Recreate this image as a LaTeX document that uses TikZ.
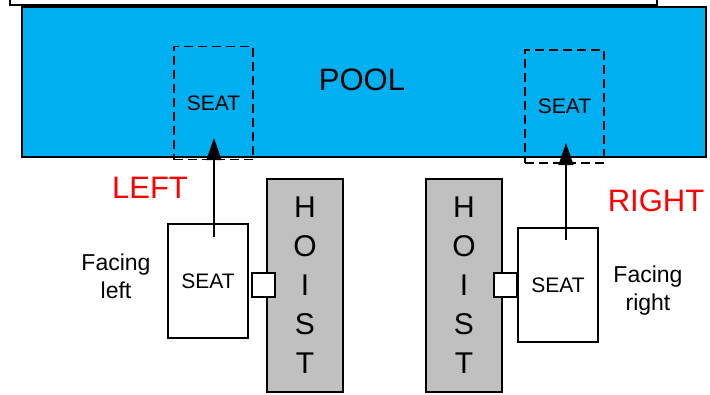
\documentclass[tikz,border=0pt]{standalone}
\usepackage{fontspec}
\setmainfont{Liberation Sans}
\usepackage{tikz}
\usetikzlibrary{arrows.meta}

\definecolor{poolblue}{HTML}{00B0F0}
\definecolor{hoistgray}{HTML}{C0C0C0}
\definecolor{sidered}{HTML}{FF0000}

\tikzset{
  seatbox/.style={draw, fill=white, line width=1.2pt, inner sep=0pt, minimum width=80pt, minimum height=114pt, font=\fontsize{21}{21}\selectfont},
  seatghost/.style={draw, dash pattern=on 9pt off 5pt, line width=1.2pt, inner sep=0pt, minimum width=79pt, minimum height=113pt, font=\fontsize{21}{21}\selectfont},
  hoistbox/.style={draw, fill=hoistgray, line width=1.2pt, inner sep=0pt, minimum width=76pt, minimum height=213pt, align=center, font=\fontsize{30}{39}\selectfont},
  clamp/.style={draw, fill=white, line width=1.2pt, inner sep=0pt, minimum width=23pt, minimum height=24pt},
  sidelabel/.style={text=sidered, font=\fontsize{31}{31}\selectfont},
  facing/.style={align=center, font=\fontsize{23}{28}\selectfont},
  lift/.style={-{Triangle[length=22pt,width=15pt]}, line width=1.2pt}
}

\begin{document}
\begin{tikzpicture}[x=1pt,y=-1pt]
\useasboundingbox (0,0) rectangle (710,394);

\draw [line width=1.2pt] (10,-20) rectangle (657,5);

% pool
\node [draw, fill=poolblue, line width=1.2pt, inner sep=0pt, minimum width=684pt, minimum height=150pt] (pool) at (364,82) {};
\node [font=\fontsize{31}{31}\selectfont] (pooltext) at (362,80) {POOL};
\node [seatghost] (lghost) at (213.5,103) {SEAT};
\node [seatghost] (rghost) at (564.5,106.5) {SEAT};

% left side
\node [hoistbox] (lhoist) at (305,285.5) {H\\O\\I\\S\\T};
\node [seatbox] (lseat) at (208,281) {SEAT};
\node [clamp] (lclamp) at (263.5,285) {};
\node [sidelabel] (lefttext) at (150,188) {LEFT};
\node [facing] (lfacing) at (116,276) {Facing\\left};
\coordinate (lfrom) at (214,237);
\coordinate (lto) at (214,138);
\draw [lift] (lfrom) -- (lto);

% right side
\node [hoistbox] (rhoist) at (464,285.5) {H\\O\\I\\S\\T};
\node [seatbox] (rseat) at (558,285) {SEAT};
\node [clamp] (rclamp) at (505.5,285) {};
\node [sidelabel] (righttext) at (656,201) {RIGHT};
\node [facing] (rfacing) at (648,291) {Facing\\right};
\coordinate (rfrom) at (566,240);
\coordinate (rto) at (566,143);
\draw [lift] (rfrom) -- (rto);
\end{tikzpicture}
\end{document}
